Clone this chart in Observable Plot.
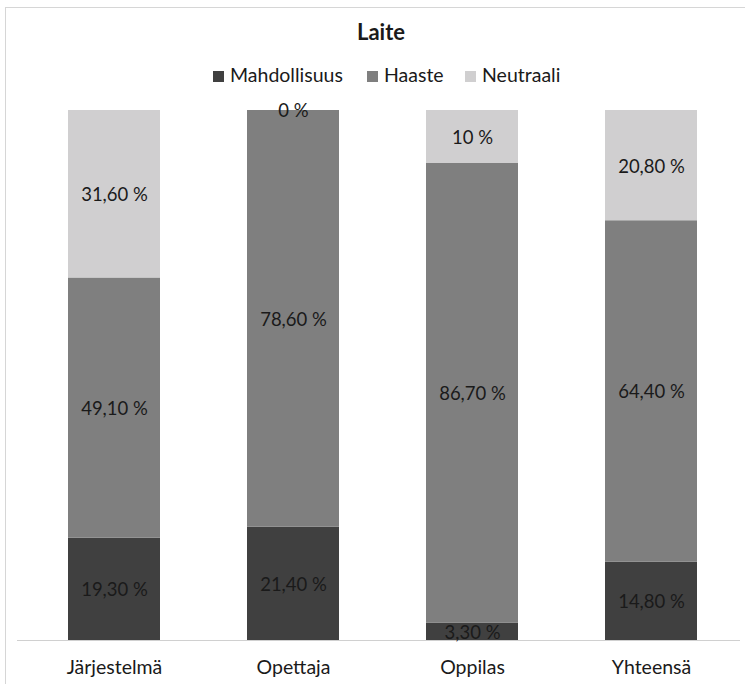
<!DOCTYPE html>
<html>
<head>
<meta charset="utf-8">
<script src="https://cdn.jsdelivr.net/npm/d3@7"></script>
<script src="https://cdn.jsdelivr.net/npm/@observablehq/plot@0.6"></script>
<style>
  html, body { margin: 0; padding: 0; background: #fff; overflow: hidden; }
  body { width: 745px; height: 684px; position: relative; font-family: Lato, "Open Sans", sans-serif; }
  #frame { position: absolute; left: 5px; top: 7px; width: 800px; height: 720px; border: 1px solid #d6d6d6; box-sizing: border-box; }
  #chart { position: absolute; left: 0; top: 0; }
  #title { position: absolute; left: 281px; width: 200px; top: 19px; text-align: center; font-weight: bold; font-size: 22px; line-height: 1.2; color: #1a1a1a; }
  #legend { position: absolute; left: 0; top: 0; width: 745px; height: 100px; font-size: 19.5px; line-height: 1.2; color: #1a1a1a; }
  #legend .item { position: absolute; top: 63px; white-space: nowrap; }
  #legend .sw { display: inline-block; width: 11px; height: 11px; margin-right: 6px; vertical-align: 0; }
</style>
</head>
<body>
<div id="frame"></div>
<div id="chart"></div>
<div id="title">Laite</div>
<div id="legend"></div>
<script>
// Respondent groups along the x axis
const categories = ["Järjestelmä", "Opettaja", "Oppilas", "Yhteensä"];
// Answer classes, stacked bottom to top
const series = ["Mahdollisuus", "Haaste", "Neutraali"];
const seriesColors = ["#404040", "#7f7f7f", "#d0cfd0"];
// Shares (%) per group, one array per class
const mahdollisuus = [19.3, 21.4, 3.3, 14.8];
const haaste = [49.1, 78.6, 86.7, 64.4];
const neutraali = [31.6, 0, 10, 20.8];

const values = [mahdollisuus, haaste, neutraali];
const fmt = v => (Number.isInteger(v) ? String(v) : v.toFixed(2).replace(".", ",")) + " %";

const rows = [];
series.forEach((s, si) => {
  categories.forEach((c, ci) => {
    rows.push({group: c, series: s, value: values[si][ci]});
  });
});

const chart = Plot.plot({
  width: 745,
  height: 684,
  marginTop: 110,
  marginBottom: 44,
  marginLeft: 17,
  marginRight: 5,
  style: {fontFamily: "Lato, 'Open Sans', sans-serif", background: "transparent"},
  x: {domain: categories, range: [24.5, 740.5], paddingInner: 0.486, paddingOuter: 0.243, label: null},
  y: {domain: [0, 100], axis: null},
  color: {domain: series, range: seriesColors},
  marks: [
    Plot.barY(rows, {x: "group", y: "value", fill: "series", order: series}),
    Plot.ruleY([0], {stroke: "#d0d0d0", strokeWidth: 1.2}),
    Plot.text(rows, Plot.stackY({
      x: "group", y: "value", z: "series", order: series,
      text: d => fmt(d.value),
      fill: "#1a1a1a", fontSize: 18.5,
      dy: 1
    })),
    Plot.axisX({tickSize: 0, tickPadding: 20, fontSize: 19.5, fill: "#1a1a1a", label: null})
  ]
});
document.getElementById("chart").appendChild(chart);

// Legend entries: swatch + class name
const legendLeft = [213, 367, 465];
const legend = document.getElementById("legend");
series.forEach((s, i) => {
  const item = document.createElement("div");
  item.className = "item";
  item.style.left = legendLeft[i] + "px";
  const sw = document.createElement("span");
  sw.className = "sw";
  sw.style.background = seriesColors[i];
  item.appendChild(sw);
  item.appendChild(document.createTextNode(s));
  legend.appendChild(item);
});
</script>
</body>
</html>
